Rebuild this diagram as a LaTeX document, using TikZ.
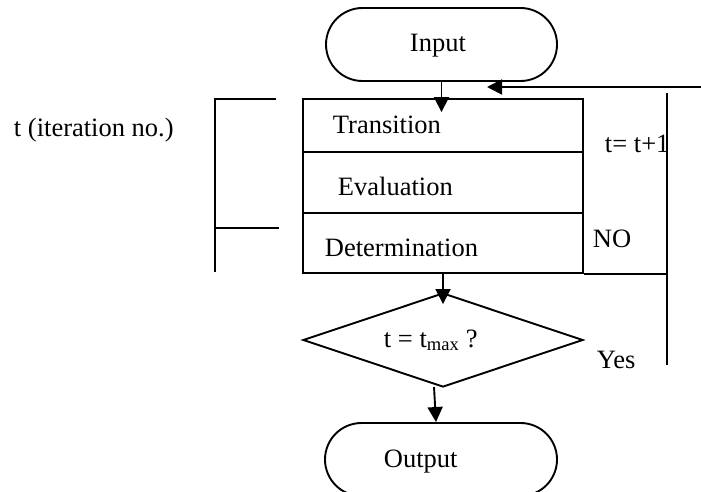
\documentclass[tikz,border=0pt]{standalone}
\usepackage{fontspec}
\setmainfont{Liberation Serif}
\usetikzlibrary{shapes.geometric,shapes.misc,arrows.meta}
\begin{document}
\begin{tikzpicture}[x=1pt,y=-1pt,line width=1.9pt,
  every node/.style={font=\fontsize{26.5}{31}\selectfont},
  term/.style={draw,rounded rectangle,minimum width=231pt,minimum height=73pt,inner sep=0pt},
  stage/.style={draw,rectangle,minimum width=280pt,inner sep=0pt},
  decide/.style={draw,diamond,minimum width=280pt,minimum height=94pt,inner sep=0pt},
  txt/.style={anchor=base west,inner sep=0pt},
  arr/.style={-{Triangle[length=15pt,width=15pt]}}]
\useasboundingbox (0,0) rectangle (701,492);
% shapes
\node[term] (input) at (441.5,44.5) {};
\node[stage,minimum height=53pt] (trans) at (443,125.5) {};
\node[stage,minimum height=61pt] (eval) at (443,182.5) {};
\node[stage,minimum height=60pt] (det) at (443,243) {};
\node[decide] (dec) at (443,340) {};
\node[term,minimum width=232pt] (output) at (441,459.5) {};
% texts
\node[txt] (tinput) at (409,52) {Input};
\node[txt] (ttrans) at (332,134) {Transition};
\node[txt] (teval) at (337,195) {Evaluation};
\node[txt] (tdet) at (324,256) {Determination};
\node[txt] (tdec) at (383,347) {t = t\textsubscript{max} ?};
\node[txt] (toutput) at (383,467) {Output};
\node[txt] (titer) at (13,136) {t (iteration no.)};
\node[txt] (tinc) at (604,153) {t= t+1};
\node[txt] (tno) at (592,247) {NO};
\node[txt] (tyes) at (596,368) {Yes};
% coordinates
\coordinate (fbin) at (701,87);
\coordinate (fbtip) at (487,87);
\coordinate (vtop) at (667,93);
\coordinate (vbot) at (667,365);
\coordinate (lbtop) at (215,99);
\coordinate (lbtopr) at (276,99);
\coordinate (lbbot) at (215,272);
\coordinate (lbmid) at (215,228);
\coordinate (lbmidr) at (279,228);
\coordinate (dout) at (434,387);
% connectors
\draw[arr,shorten >=-14pt] (input.south) -- (input.south |- trans.north);
\draw[arr,shorten >=-12pt] (det.south) -- (dec.north);
\draw[arr] (dout) -- ([xshift=-5pt]output.north);
\draw[arr] (fbin) -- (fbtip);
\draw (vtop) -- (vbot);
\draw (det.south east) -- (vtop |- det.south east);
\draw (lbtopr) -- (lbtop) -- (lbbot);
\draw (lbmid) -- (lbmidr);
\end{tikzpicture}
\end{document}
